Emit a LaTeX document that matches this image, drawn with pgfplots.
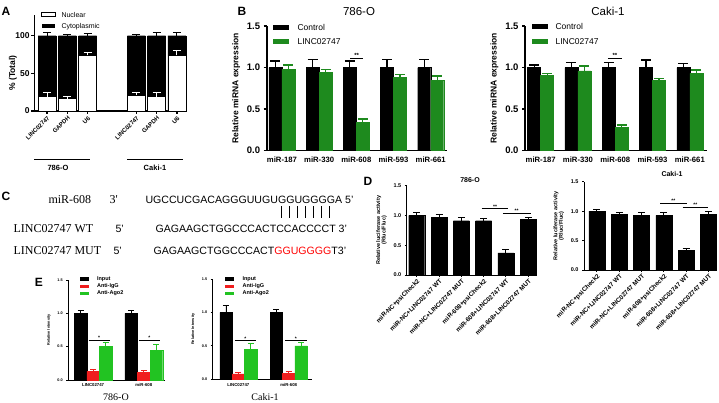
\documentclass[border=0pt]{standalone}
\usepackage{fontspec}
\setmainfont{Liberation Sans}
\newfontfamily\tms{Liberation Serif}
\usepackage{pgfplots}
\pgfplotsset{compat=1.18}
\definecolor{bgreen}{HTML}{1E8A1E}
\definecolor{egreen}{HTML}{22C322}
\definecolor{ered}{HTML}{F01E1E}
\newcommand{\fs}[1]{\fontsize{#1}{#1}\selectfont}

\pgfplotsset{
  gp/.style={scale only axis, axis lines=left, axis line style={-, line width=#1},
    tick style={black, line width=#1}, tick align=outside, major tick length=3pt,
    clip=false, /pgf/number format/assume math mode=true},
  onedec/.style={yticklabel style={/pgf/number format/.cd, fixed, fixed zerofill, precision=1, /tikz/.cd}},
  eb/.style n args={3}{/pgfplots/error bars/y dir=plus, /pgfplots/error bars/y explicit,
    /pgfplots/error bars/error bar style={#1, line width=#2},
    /pgfplots/error bars/error mark options={rotate=90, #1, mark size=#3, line width=#2}},
}

\begin{document}
\begin{tikzpicture}[x=1pt,y=1pt]
\useasboundingbox (0,0) rectangle (719,402);

% panel letters
\node[font=\bfseries\fs{12}] at (6,390.5) {A};
\node[font=\bfseries\fs{12}] at (242,390.5) {B};
\node[font=\bfseries\fs{12}] at (6,206) {C};
\node[font=\bfseries\fs{12}] at (368,221) {D};
\node[font=\bfseries\fs{12}] at (39,119.5) {E};

% ---------- A
\begin{axis}[gp=1.2pt, at={(34.3pt,291pt)}, anchor=south west, width=151.6pt, height=96pt,
  xmin=0.37, xmax=7.84, ymin=0, ymax=127.5,
  ytick={0,50,100}, xtick={1,2,3,5.4,6.4,7.4},
  xticklabels={LINC02747,GAPDH,U6,LINC02747,GAPDH,U6},
  xticklabel style={rotate=45, anchor=north east, font=\bfseries\fs{6}, inner sep=1pt},
  yticklabel style={font=\bfseries\fs{8.5}, inner sep=1.5pt},
  bar width=18pt]
\addplot[ybar, fill=black, draw=black, eb={black}{1pt}{4pt}] coordinates {
  (1,100) +- (0,4) (2,100) +- (0,2) (3,100) +- (0,3)
  (5.4,100) +- (0,2) (6.4,100) +- (0,4) (7.4,100) +- (0,4)};
\addplot[ybar, fill=white, draw=black, eb={white}{1pt}{4pt}] coordinates {
  (1,19) +- (0,5) (2,16.5) +- (0,3) (3,74) +- (0,4)
  (5.4,21) +- (0,4) (6.4,19) +- (0,5) (7.4,74) +- (0,6)};
\end{axis}
\node[rotate=90, font=\bfseries\fs{8.5}] at (13,329) {\% (Total)};
\draw[line width=1pt] (34,242) -- (90,242);
\draw[line width=1pt] (127,242) -- (183,242);
\node[font=\bfseries\fs{7.5}] at (58,234) {786-O};
\node[font=\bfseries\fs{7.5}] at (155,234) {Caki-1};
\draw[line width=0.8pt, fill=white] (41.7,385.3) rectangle (55,389.3);
\fill (41.7,373.7) rectangle (55,378);
\node[anchor=west, font=\fs{7}] at (58,387.3) {Nuclear};
\node[anchor=west, font=\fs{7}] at (58,375.5) {Cytoplasmic};

% ---------- B left
\begin{axis}[gp=1.6pt, at={(266.7pt,251.3pt)}, anchor=south west, width=180pt, height=124.7pt,
  xmin=-0.41, xmax=4.43, ymin=0, ymax=1.5, ytick={0,0.5,1,1.5}, onedec,
  xtick={0,...,4}, xticklabels={miR-187,miR-330,miR-608,miR-593,miR-661},
  x tick style={draw=none},
  xticklabel style={font=\bfseries\fs{7.7}},
  yticklabel style={font=\bfseries\fs{9.5}},
  ylabel={Relative miRNA expression}, ylabel style={font=\bfseries\fs{8.5}},
  ybar=0pt, bar width=13pt]
\addplot[fill=black, draw=black, eb={black}{1.3pt}{5pt}] coordinates {
  (0,1) +- (0,0.08) (1,1) +- (0,0.1) (2,1) +- (0,0.08) (3,1) +- (0,0.1) (4,1) +- (0,0.1)};
\addplot[fill=bgreen, draw=bgreen, eb={bgreen}{1.3pt}{5pt}] coordinates {
  (0,0.98) +- (0,0.05) (1,0.94) +- (0,0.04) (2,0.34) +- (0,0.04) (3,0.88) +- (0,0.04) (4,0.85) +- (0,0.05)};
\draw[line width=0.8pt] (axis cs:1.83,1.115) -- (axis cs:2.19,1.115);
\node[font=\bfseries\fs{6}, anchor=south, inner sep=0.5pt] at (axis cs:2.01,1.115) {**};
\end{axis}
\node[font=\fs{11.5}] at (359,390) {786-O};
\fill (273.3,372) rectangle (289.3,377);
\fill[bgreen] (273.3,358) rectangle (289.3,363);
\node[anchor=west, font=\fs{8.5}] at (294,374.5) {Control};
\node[anchor=west, font=\fs{8.5}] at (294,360.7) {LINC02747};

% ---------- B right
\begin{axis}[gp=1.6pt, at={(525pt,251.3pt)}, anchor=south west, width=181.6pt, height=124.7pt,
  xmin=-0.42, xmax=4.45, ymin=0, ymax=1.5, ytick={0,0.5,1,1.5}, onedec,
  xtick={0,...,4}, xticklabels={miR-187,miR-330,miR-608,miR-593,miR-661},
  x tick style={draw=none},
  xticklabel style={font=\bfseries\fs{7.7}},
  yticklabel style={font=\bfseries\fs{9.5}},
  ylabel={Relative miRNA expression}, ylabel style={font=\bfseries\fs{8.5}},
  ybar=0pt, bar width=13pt]
\addplot[fill=black, draw=black, eb={black}{1.3pt}{5pt}] coordinates {
  (0,1) +- (0,0.03) (1,1) +- (0,0.06) (2,1) +- (0,0.06) (3,1) +- (0,0.09) (4,1) +- (0,0.05)};
\addplot[fill=bgreen, draw=bgreen, eb={bgreen}{1.3pt}{5pt}] coordinates {
  (0,0.91) +- (0,0.02) (1,0.96) +- (0,0.06) (2,0.28) +- (0,0.03) (3,0.85) +- (0,0.02) (4,0.93) +- (0,0.04)};
\draw[line width=0.8pt] (axis cs:1.8,1.11) -- (axis cs:2.18,1.11);
\node[font=\bfseries\fs{6}, anchor=south, inner sep=0.5pt] at (axis cs:1.99,1.11) {**};
\end{axis}
\node[font=\fs{11.5}] at (608,391) {Caki-1};
\fill (531.7,373) rectangle (548.3,378);
\fill[bgreen] (531.7,357.7) rectangle (548.3,362.7);
\node[anchor=west, font=\fs{8.5}] at (552,375.5) {Control};
\node[anchor=west, font=\fs{8.5}] at (552,360.7) {LINC02747};

% ---------- C
\node[anchor=base west, font=\tms\fs{12}] at (45,199) {miR-608};
\node[anchor=base west, font=\tms\fs{12}] at (106,199) {3'};
\node[anchor=base west, font=\fs{10.6}] at (142,199) {UGCCUCGACAGGGUUGUGGUGGGGA 5'};
\foreach \i in {0,...,6} \draw[line width=1pt] (281+8*\i,196) -- (281+8*\i,184);
\node[anchor=base west, font=\tms\fs{12}] at (10,170) {LINC02747 WT};
\node[anchor=base west, font=\fs{10.6}] at (112,170) {5'};
\node[anchor=base west, font=\fs{10.6}] at (152,170) {GAGAAGCTGGCCCACTCCACCCCT 3'};
\node[anchor=base west, font=\tms\fs{12}] at (10,148) {LINC02747 MUT};
\node[anchor=base west, font=\fs{10.6}] at (110,148) {5'};
\node[anchor=base west, font=\fs{10.6}] at (150,148) {GAGAAGCTGGCCCACT\textcolor{red}{GGUGGGG}T3'};

% ---------- D left
\begin{axis}[gp=1pt, at={(406.7pt,127pt)}, anchor=south west, width=130.5pt, height=89.5pt,
  xmin=-0.45, xmax=5.4, ymin=0, ymax=1.5, ytick={0,0.5,1,1.5}, onedec,
  xtick={0,...,5}, major tick length=2pt,
  xticklabels={miR-NC+psiCheck2,miR-NC+LINC02747 WT,miR-NC+LINC02747 MUT,miR-608+psiCheck2,miR-608+LINC02747 WT,miR-608+LINC02747 MUT},
  xticklabel style={rotate=45, anchor=north east, font=\bfseries\fs{6.3}, inner sep=1pt},
  yticklabel style={font=\bfseries\fs{5.5}},
  ylabel={Relative luciferase activity\\(Rluc/Fluc)}, ylabel style={font=\bfseries\fs{5.5}, align=center},
  bar width=16pt]
\addplot[ybar, fill=black, draw=black, eb={black}{1pt}{3.5pt}] coordinates {
  (0,1) +- (0,0.05) (1,0.97) +- (0,0.04) (2,0.91) +- (0,0.05) (3,0.91) +- (0,0.04) (4,0.37) +- (0,0.05) (5,0.93) +- (0,0.04)};
\draw[line width=0.7pt] (axis cs:2.91,1.11) -- (axis cs:4.11,1.11);
\node[font=\bfseries\fs{5}, anchor=south, inner sep=0.5pt] at (axis cs:3.51,1.11) {**};
\draw[line width=0.7pt] (axis cs:3.86,1.04) -- (axis cs:5.11,1.04);
\node[font=\bfseries\fs{5}, anchor=south, inner sep=0.5pt] at (axis cs:4.48,1.04) {**};
\end{axis}
\node[font=\bfseries\fs{7}] at (470,222) {786-O};

% ---------- D right
\begin{axis}[gp=1pt, at={(584pt,132pt)}, anchor=south west, width=133pt, height=88.3pt,
  xmin=-0.58, xmax=5.38, ymin=0, ymax=1.5, ytick={0,0.5,1,1.5}, onedec,
  xtick={0,...,5}, major tick length=2pt,
  xticklabels={miR-NC+psiCheck2,miR-NC+LINC02747 WT,miR-NC+LINC02747 MUT,miR-608+psiCheck2,miR-608+LINC02747 WT,miR-608+LINC02747 MUT},
  xticklabel style={rotate=45, anchor=north east, font=\bfseries\fs{6.3}, inner sep=1pt},
  yticklabel style={font=\bfseries\fs{5.5}},
  ylabel={Relative luciferase activity\\(Rluc/Fluc)}, ylabel style={font=\bfseries\fs{5.5}, align=center},
  bar width=16pt]
\addplot[ybar, fill=black, draw=black, eb={black}{1pt}{3.5pt}] coordinates {
  (0,1) +- (0,0.03) (1,0.95) +- (0,0.03) (2,0.93) +- (0,0.04) (3,0.93) +- (0,0.05) (4,0.33) +- (0,0.03) (5,0.95) +- (0,0.05)};
\draw[line width=0.7pt] (axis cs:2.83,1.13) -- (axis cs:4.02,1.13);
\node[font=\bfseries\fs{5}, anchor=south, inner sep=0.5pt] at (axis cs:3.42,1.13) {**};
\draw[line width=0.7pt] (axis cs:3.84,1.06) -- (axis cs:4.99,1.06);
\node[font=\bfseries\fs{5}, anchor=south, inner sep=0.5pt] at (axis cs:4.41,1.06) {**};
\end{axis}
\node[font=\bfseries\fs{7}] at (672,228) {Caki-1};

% ---------- E left
\begin{axis}[gp=0.9pt, at={(68.3pt,22pt)}, anchor=south west, width=96.3pt, height=100pt,
  xmin=-0.49, xmax=1.41, ymin=0, ymax=1.5, ytick={0,0.5,1,1.5}, onedec,
  xtick={0,1}, xticklabels={LINC02747,miR-608}, x tick style={draw=none},
  major tick length=2pt,
  xticklabel style={font=\bfseries\fs{4.3}, inner sep=1.5pt},
  yticklabel style={font=\bfseries\fs{3.8}},
  ylabel={Relative Intensity}, ylabel style={font=\bfseries\fs{3.8}},
  ybar=0pt, bar width=12.6pt]
\addplot[fill=black, draw=black, eb={black}{0.9pt}{3pt}] coordinates {(0,1) +- (0,0.05) (1,1) +- (0,0.05)};
\addplot[fill=ered, draw=ered, eb={ered}{0.9pt}{3pt}] coordinates {(0,0.13) +- (0,0.03) (1,0.12) +- (0,0.03)};
\addplot[fill=egreen, draw=egreen, eb={egreen}{0.9pt}{3pt}] coordinates {(0,0.5) +- (0,0.07) (1,0.45) +- (0,0.08)};
\draw[line width=0.6pt] (axis cs:-0.09,0.6) -- (axis cs:0.33,0.6);
\node[font=\bfseries\fs{5}, anchor=south, inner sep=0.3pt] at (axis cs:0.12,0.6) {*};
\draw[line width=0.6pt] (axis cs:0.91,0.6) -- (axis cs:1.31,0.6);
\node[font=\bfseries\fs{5}, anchor=south, inner sep=0.3pt] at (axis cs:1.11,0.6) {*};
\end{axis}
\fill (80,121) rectangle (89.3,124.7);
\fill[ered] (80,114.3) rectangle (89.3,117.3);
\fill[egreen] (80,107) rectangle (89.3,110);
\node[anchor=west, font=\bfseries\fs{5.5}] at (93.5,123) {Input};
\node[anchor=west, font=\bfseries\fs{5.5}] at (93.5,115.7) {Anti-IgG};
\node[anchor=west, font=\bfseries\fs{5.5}] at (93.5,108.7) {Anti-Ago2};
\node[font=\tms\fs{10}] at (116,5) {786-O};

% ---------- E right
\begin{axis}[gp=0.9pt, at={(212.7pt,22.7pt)}, anchor=south west, width=99.2pt, height=100.3pt,
  xmin=-0.51, xmax=1.46, ymin=0, ymax=1.5, ytick={0,0.5,1,1.5}, onedec,
  xtick={0,1}, xticklabels={LINC02747,miR-608}, x tick style={draw=none},
  major tick length=2pt,
  xticklabel style={font=\bfseries\fs{4.3}, inner sep=1.5pt},
  yticklabel style={font=\bfseries\fs{3.8}},
  ylabel={Relative Intensity}, ylabel style={font=\bfseries\fs{3.8}},
  ybar=0pt, bar width=12.4pt]
\addplot[fill=black, draw=black, eb={black}{0.9pt}{3pt}] coordinates {(0,1) +- (0,0.1) (1,1) +- (0,0.05)};
\addplot[fill=ered, draw=ered, eb={ered}{0.9pt}{3pt}] coordinates {(0,0.08) +- (0,0.02) (1,0.09) +- (0,0.03)};
\addplot[fill=egreen, draw=egreen, eb={egreen}{0.9pt}{3pt}] coordinates {(0,0.45) +- (0,0.08) (1,0.5) +- (0,0.05)};
\draw[line width=0.6pt] (axis cs:-0.07,0.58) -- (axis cs:0.35,0.58);
\node[font=\bfseries\fs{5}, anchor=south, inner sep=0.3pt] at (axis cs:0.14,0.58) {*};
\draw[line width=0.6pt] (axis cs:0.93,0.58) -- (axis cs:1.36,0.58);
\node[font=\bfseries\fs{5}, anchor=south, inner sep=0.3pt] at (axis cs:1.14,0.58) {*};
\end{axis}
\fill (225,121) rectangle (234.3,124.7);
\fill[ered] (225,114.3) rectangle (234.3,117.3);
\fill[egreen] (225,107) rectangle (234.3,110);
\node[anchor=west, font=\bfseries\fs{5.5}] at (239,123) {Input};
\node[anchor=west, font=\bfseries\fs{5.5}] at (239,115.7) {Anti-IgG};
\node[anchor=west, font=\bfseries\fs{5.5}] at (239,108.7) {Anti-Ago2};
\node[font=\tms\fs{10}] at (265,5) {Caki-1};
\end{tikzpicture}
\end{document}
